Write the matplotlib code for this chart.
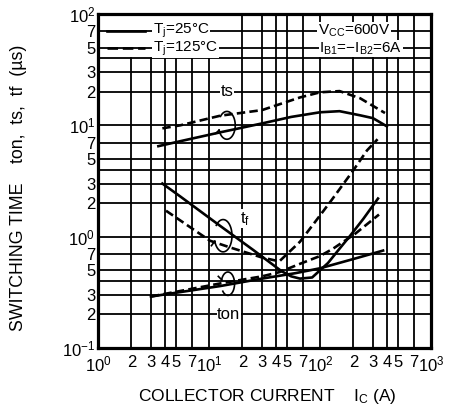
import numpy as np
import matplotlib.pyplot as plt
from matplotlib.transforms import blended_transform_factory

plt.rcParams['font.family'] = ['Liberation Sans', 'DejaVu Sans']
plt.rcParams['mathtext.fontset'] = 'custom'
plt.rcParams['mathtext.rm'] = 'Liberation Sans'
plt.rcParams['mathtext.it'] = 'Liberation Sans:italic'
plt.rcParams['mathtext.default'] = 'regular'

# switching time vs collector current
# storage time ts
ts_25_x = [3.5, 5.5, 12.6, 30, 55, 100, 150, 230, 300, 400]
ts_25_y = [6.5, 7.2, 8.65, 10.4, 11.9, 13.1, 13.4, 12.3, 11.6, 9.8]
ts_125_x = [3.8, 5.5, 12.6, 30, 66, 100, 150, 230, 385]
ts_125_y = [9.4, 10.0, 12.2, 13.7, 17.8, 19.8, 20.3, 17.5, 12.9]

# fall time tf
tf_25_x = [3.8, 5.5, 12.6, 25, 45, 55, 66, 85, 118, 150, 187, 245, 333]
tf_25_y = [3.0, 2.3, 1.25, 0.76, 0.49, 0.44, 0.42, 0.43, 0.58, 0.78, 1.02, 1.44, 2.2]
tf_125_x = [4.1, 10.2, 15.5, 30, 43, 66, 100, 128, 198, 265, 330]
tf_125_y = [1.71, 0.92, 0.8, 0.65, 0.6, 0.9, 1.55, 2.15, 3.9, 5.95, 7.5]

# turn-on time ton
ton_25_x = [3, 12.6, 30, 60, 100, 200, 370]
ton_25_y = [0.29, 0.36, 0.42, 0.47, 0.52, 0.63, 0.75]
ton_125_x = [3, 12.6, 30, 43, 66, 100, 131, 207, 340]
ton_125_y = [0.29, 0.38, 0.44, 0.48, 0.57, 0.67, 0.78, 1.06, 1.58]

legend_labels = ['T$_j$=25°C', 'T$_j$=125°C']
legend_rows = [71, 49]

mantissas = [1, 2, 3, 4, 5, 7]
ylab_mantissas = [1, 2, 3, 5, 7]

fig = plt.figure(figsize=(4.57, 4.13), dpi=100)
ax = fig.add_axes([98/457, 1-348/413, 333/457, 334/413])
ax.set_xscale('log')
ax.set_yscale('log')
ax.set_xlim(1, 1000)
ax.set_ylim(0.1, 100)

# hand drawn style grid (vertical lines stop under the legend)
for d in range(3):
    for m in mantissas:
        g = m * 10**d
        if g == 1:
            continue
        top = 40 if g <= 10 else 100
        ax.plot([g, g], [0.1, top], color='k', lw=1.3, zorder=1)
for d in range(-1, 2):
    for m in mantissas:
        g = m * 10.0**d
        if g == 0.1:
            continue
        ax.plot([1, 1000], [g, g], color='k', lw=1.3, zorder=1)

# ticks
xt = [m * 10**d for d in range(3) for m in mantissas] + [1000]
xl = [f'10$^{{{int(np.log10(v))}}}$' if str(v).startswith('1') else str(v)[0] for v in xt]
ax.set_xticks(xt, xl)
yt = [m * 10.0**d for d in range(-1, 2) for m in ylab_mantissas] + [100]
yl = []
for v in yt:
    e = int(np.floor(np.log10(v) + 1e-9))
    m = round(v / 10.0**e)
    yl.append(f'10$^{{{e}}}$'.replace('-', '\u2212') if m == 1 else str(m))
ax.set_yticks(yt, yl)
ax.minorticks_off()
ax.tick_params(length=0, labelsize=12, pad=5)
ax.tick_params(axis='y', pad=2)
for s in ax.spines.values():
    s.set_linewidth(2.3)

lw = 1.9
dash = (0, (3.2, 1.6))
ax.plot(ts_25_x, ts_25_y, 'k-', lw=lw, zorder=3)
ax.plot(ts_125_x, ts_125_y, 'k', ls=dash, lw=lw, zorder=3)
ax.plot(tf_25_x, tf_25_y, 'k-', lw=lw, zorder=3)
ax.plot(tf_125_x, tf_125_y, 'k', ls=dash, lw=lw, zorder=3)
ax.plot(ton_25_x, ton_25_y, 'k-', lw=lw, zorder=3)
ax.plot(ton_125_x, ton_125_y, 'k', ls=dash, lw=lw, zorder=3)


def loop(xc, yc, wdec, hdec, a0, a1, tail):
    t = np.radians(np.linspace(a0, a1, 80))
    x = xc * 10**(wdec / 2 * np.cos(t))
    y = yc * 10**(hdec / 2 * np.sin(t))
    ax.plot(x, y, 'k-', lw=1.2, zorder=4)
    x1, y1 = x[-1], y[-1]
    ax.plot([x1, x1 * 10**tail[0]], [y1, y1 * 10**tail[1]], 'k-', lw=1.2, zorder=4)


loop(14.5, 10, 0.15, 0.25, 140, -160, (-0.03, -0.03))
loop(13.4, 1.02, 0.16, 0.29, 140, -160, (-0.03, -0.04))
loop(14.8, 0.378, 0.12, 0.21, -140, 160, (-0.03, 0.03))

wb = dict(facecolor='white', edgecolor='none', pad=0.5)
fs = 11
ax.text(14.5, 20, 'ts', fontsize=12, ha='center', va='center', bbox=wb, zorder=5)
ax.text(21, 1.45, 't$_f$', fontsize=12, ha='center', va='center', bbox=wb, zorder=5)
ax.text(15.1, 0.2, 'ton', fontsize=12, ha='center', va='center', bbox=wb, zorder=5)
ax.text(204, 71, 'V$_{CC}$=600V', fontsize=fs, ha='center', va='center', bbox=wb, zorder=5)
ax.text(234, 49, 'I$_{B1}$=\u2212I$_{B2}$=6A', fontsize=fs, ha='center', va='center', bbox=wb, zorder=5)

# legend drawn in place: handle x in axes fraction, row on a grid line
tr = blended_transform_factory(ax.transAxes, ax.transData)
for row, lab, ls in zip(legend_rows, legend_labels, ['-', (0, (4, 1.8))]):
    ax.plot([9/333, 47/333], [row, row], color='k', ls=ls, lw=lw, transform=tr, zorder=5)
    ax.text(55/333, row, lab, fontsize=fs, ha='left', va='center', bbox=wb,
            transform=tr, zorder=5)

fig.text(19/457, 1 - 188/413, 'SWITCHING TIME    ton,  ts,  tf  (µs)',
         rotation=90, ha='center', va='center', fontsize=12.8,
         family=['Liberation Sans Narrow', 'Liberation Sans'])
fig.text(267/457, 1 - 396/413, 'COLLECTOR CURRENT    I$_{C}$ (A)',
         ha='center', va='center', fontsize=12.5)

plt.savefig('out.png', dpi=100)
